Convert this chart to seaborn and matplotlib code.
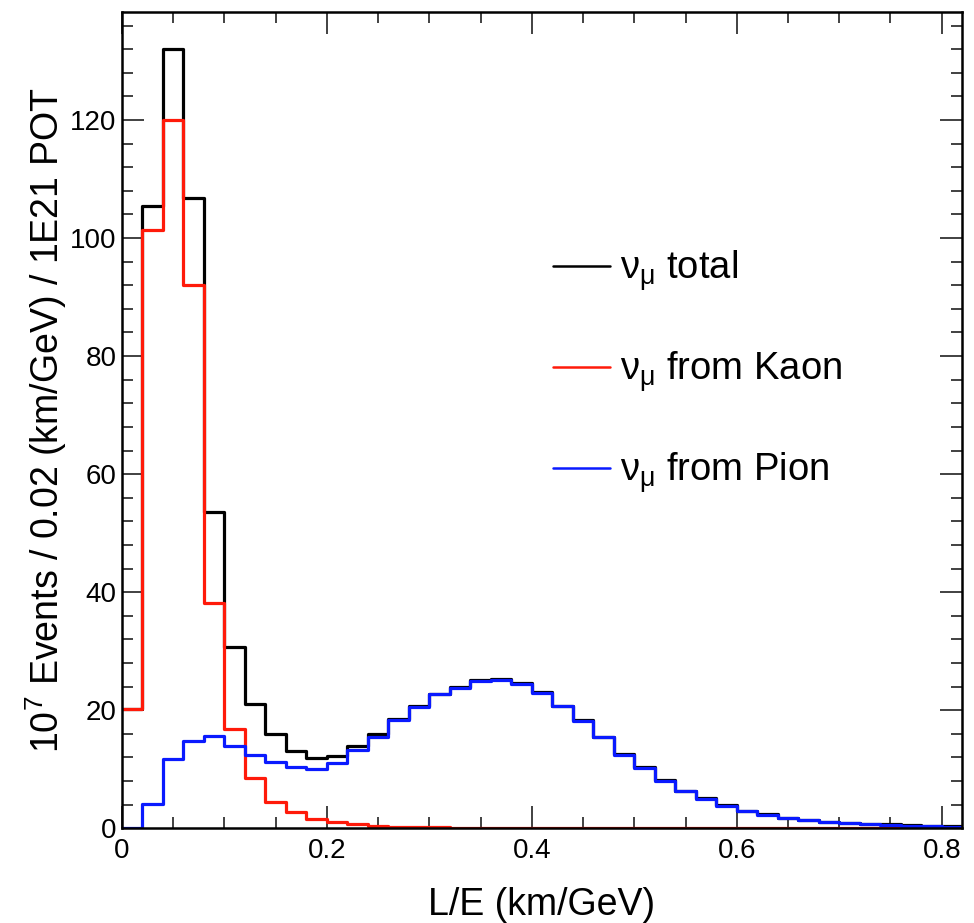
import numpy as np
import pandas as pd
import matplotlib
matplotlib.use("Agg")
import matplotlib.pyplot as plt
import seaborn as sns
from matplotlib.lines import Line2D
from matplotlib.ticker import MultipleLocator

# ---------------- data ----------------
bin_width = 0.02
n_bins = 41
total = [20.2, 105.5, 132.0, 106.8, 53.6, 30.7, 21.1, 16.0, 13.1, 11.9,
         12.3, 14.0, 16.0, 18.6, 20.8, 22.8, 23.9, 25.1, 25.3, 24.6,
         23.1, 20.8, 18.3, 15.5, 12.6, 10.4, 8.1, 6.4, 5.1, 3.9,
         3.0, 2.4, 1.8, 1.4, 1.15, 0.9, 0.75, 0.65, 0.5, 0.4, 0.35]
kaon = [20.2, 101.4, 120.0, 92.0, 38.1, 16.8, 8.5, 4.5, 2.7, 1.5,
        1.1, 0.7, 0.45, 0.3, 0.2, 0.15, 0.12, 0.1, 0.08, 0.07,
        0.06, 0.06, 0.05, 0.05, 0.05, 0.04, 0.04, 0.04, 0.04, 0.03,
        0.03, 0.03, 0.03, 0.03, 0.03, 0.03, 0.03, 0.03, 0.03, 0.03, 0.03]
pion = [0.0, 4.2, 11.7, 14.8, 15.6, 14.0, 12.5, 11.3, 10.4, 10.0,
        11.0, 13.2, 15.5, 18.3, 20.6, 22.7, 23.8, 25.0, 25.2, 24.5,
        23.0, 20.7, 18.2, 15.4, 12.5, 10.3, 8.0, 6.3, 5.0, 3.8,
        2.9, 2.3, 1.75, 1.36, 1.1, 0.85, 0.7, 0.6, 0.45, 0.35, 0.3]
series_names = ["total", "from Kaon", "from Pion"]
series_colors = ["#000000", "#ff1a0a", "#0a1aff"]

edges = np.arange(n_bins + 1) * bin_width
centers = edges[:-1] + bin_width / 2

df = pd.concat([
    pd.DataFrame({"LE": centers, "w": vals, "series": name})
    for name, vals in zip(series_names, [total, kaon, pion])
], ignore_index=True)

# ---------------- style ----------------
sns.set_theme(style="ticks")
plt.rcParams["font.family"] = ["Liberation Sans", "DejaVu Sans"]
plt.rcParams["mathtext.fontset"] = "custom"
plt.rcParams["mathtext.rm"] = "Liberation Sans"
plt.rcParams["mathtext.it"] = "Liberation Sans"
plt.rcParams["mathtext.bf"] = "Liberation Sans:bold"
plt.rcParams["text.color"] = "black"
plt.rcParams["axes.labelcolor"] = "black"
plt.rcParams["xtick.labelcolor"] = "black"
plt.rcParams["ytick.labelcolor"] = "black"

fig = plt.figure(figsize=(9.74, 9.23), dpi=100)
ax = fig.add_axes([122 / 974, (923 - 828.3) / 923, (961.7 - 122) / 974, (828.3 - 12) / 923])

for name, col in zip(series_names, series_colors):
    sns.histplot(data=df[df["series"] == name], x="LE", weights="w",
                 binwidth=bin_width, binrange=(0, n_bins * bin_width),
                 element="step", fill=False, color=col, linewidth=2.3, ax=ax)

ax.set_xlim(0, 0.8195)
ax.set_ylim(0, 138.3)

ax.xaxis.set_major_locator(MultipleLocator(0.2))
ax.xaxis.set_minor_locator(MultipleLocator(0.05))
ax.yaxis.set_major_locator(MultipleLocator(20))
ax.yaxis.set_minor_locator(MultipleLocator(4))
ax.xaxis.set_major_formatter(matplotlib.ticker.FuncFormatter(lambda v, p: "0" if abs(v) < 1e-9 else f"{v:.1f}"))

ax.tick_params(which="both", direction="in", top=True, right=True, color="#333333",
               labelcolor="black")
ax.tick_params(which="major", length=16, width=1.3, labelsize=20)
ax.tick_params(which="minor", length=8, width=1.3)
ax.tick_params(axis="x", which="major", pad=7)
ax.tick_params(axis="y", which="major", pad=4)

for s in ax.spines.values():
    s.set_linewidth(1.8)
    s.set_color("black")

ax.set_xlabel("L/E (km/GeV)", fontsize=27)
ax.set_ylabel(r"$10^{7}$ Events / 0.02 (km/GeV) / 1E21 POT", fontsize=27)
ax.yaxis.set_label_coords(-0.063, 0.5)
ax.xaxis.set_label_coords(0.5, -0.072)

handles = [Line2D([0], [0], color=c, lw=1.8) for c in series_colors]
labels = [r"$\nu_{\mu}$ " + n for n in series_names]
leg = ax.legend(handles, labels, loc="upper left", bbox_to_anchor=(0.513, 0.710),
                frameon=False, fontsize=27.5, handlelength=1.5, handletextpad=0.27,
                labelspacing=1.45, borderaxespad=0, borderpad=0)

fig.savefig("out.png", dpi=100)
